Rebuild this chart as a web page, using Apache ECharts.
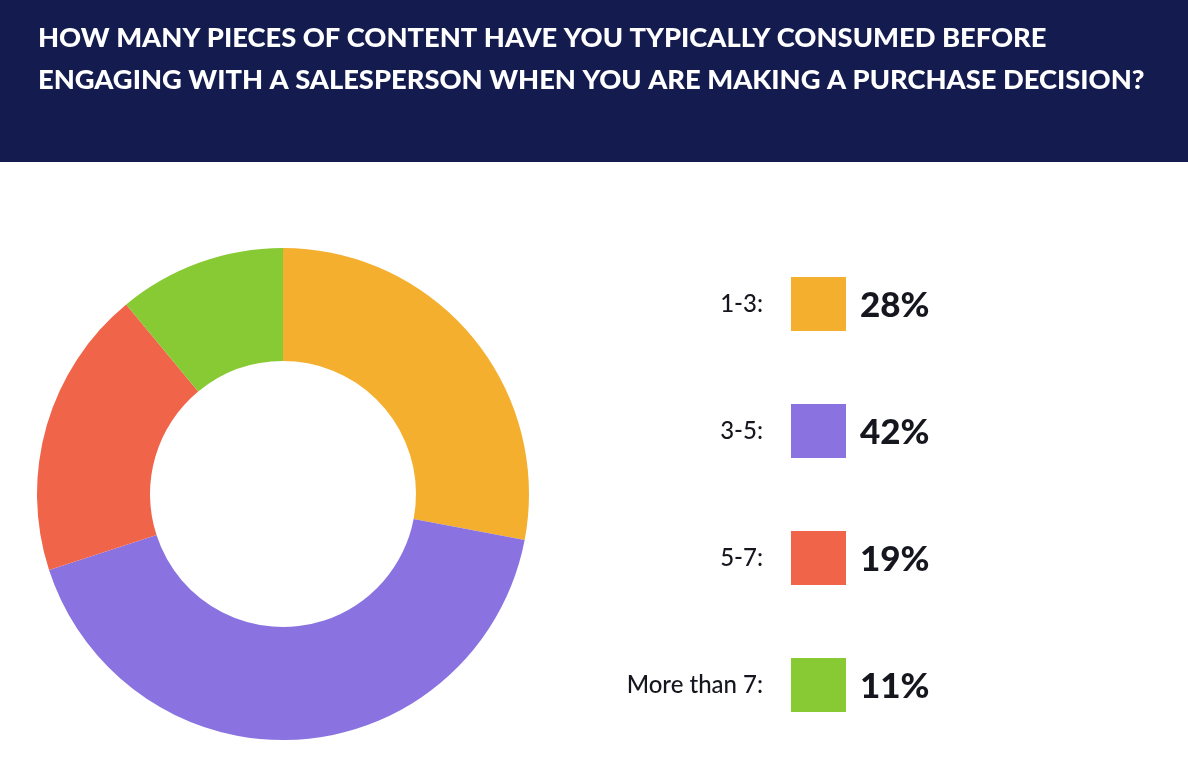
<!DOCTYPE html>
<html>
<head>
<meta charset="utf-8">
<script src="https://cdn.jsdelivr.net/npm/echarts@6/dist/echarts.min.js"></script>
<style>
  html, body { margin: 0; padding: 0; background: #fff; }
  #chart { width: 1188px; height: 777px; }
</style>
</head>
<body>
<div id="chart"></div>
<script>
var categories = ['1-3', '3-5', '5-7', 'More than 7'];
var shares = [28, 42, 19, 11];
var colors = ['#F5AF2F', '#8A73E1', '#F0654A', '#88CA34'];
var titleLines = [
    'HOW MANY PIECES OF CONTENT HAVE YOU TYPICALLY CONSUMED BEFORE',
    'ENGAGING WITH A SALESPERSON WHEN YOU ARE MAKING A PURCHASE DECISION?'
];

// legend rows: label, swatch, percentage
var rowTop = 277, rowStep = 127, boxSize = 55;
var legendItems = [];
categories.forEach(function (name, i) {
    var y = rowTop + i * rowStep;
    legendItems.push({
        type: 'text',
        x: 763, y: y + boxSize / 2,
        style: {
            text: name + ':',
            align: 'right',
            verticalAlign: 'middle',
            fill: '#16161f',
            font: '500 24px Lato'
        }
    });
    legendItems.push({
        type: 'rect',
        shape: { x: 791, y: y, width: boxSize, height: 54 },
        style: { fill: colors[i] }
    });
    legendItems.push({
        type: 'text',
        x: 860, y: y + boxSize / 2 + 1,
        style: {
            text: shares[i] + '%',
            align: 'left',
            verticalAlign: 'middle',
            fill: '#16161f',
            font: '900 35px Lato'
        }
    });
});

var option = {
    backgroundColor: '#ffffff',
    animation: false,
    color: colors,
    title: {
        text: titleLines.join('\n'),
        left: 38,
        top: 17,
        padding: 0,
        textStyle: {
            color: '#ffffff',
            fontFamily: 'Lato',
            fontWeight: 900,
            fontSize: 27.3,
            lineHeight: 42
        }
    },
    graphic: [
        {
            type: 'rect',
            z: -10,
            shape: { x: 0, y: 0, width: 1188, height: 162 },
            style: { fill: '#131B4F' }
        }
    ].concat(legendItems),
    series: [
        {
            name: 'Content pieces',
            type: 'pie',
            center: [283, 494],
            radius: [133, 246],
            startAngle: 90,
            clockwise: true,
            silent: true,
            label: { show: false },
            labelLine: { show: false },
            itemStyle: { borderWidth: 0 },
            data: categories.map(function (c, i) {
                return { name: c, value: shares[i] };
            })
        }
    ]
};

var myChart = echarts.init(document.getElementById('chart'));
myChart.setOption(option);
</script>
</body>
</html>
